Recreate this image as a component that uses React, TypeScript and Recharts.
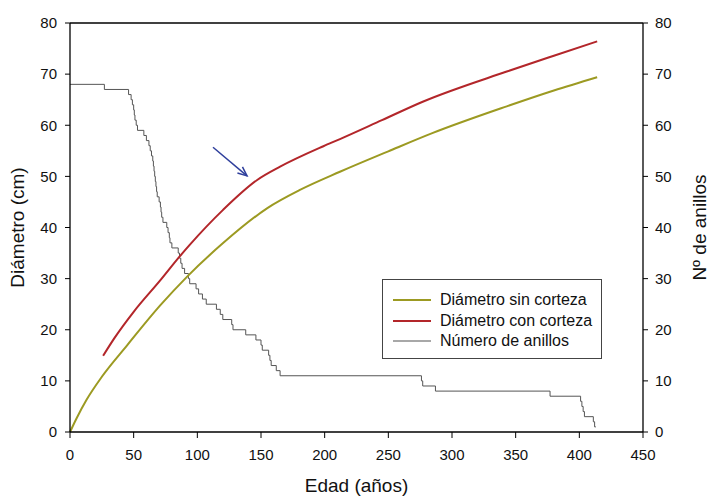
import React from 'react';
import {
  LineChart, Line, XAxis, YAxis, Legend, ReferenceLine, Label,
} from 'recharts';

// Diámetro sin corteza
const sinAge = [0, 5, 13, 25, 45, 71, 92, 120, 155, 181, 212, 250, 285, 343, 380, 414];
const sinDiam = [0, 2.6, 6.3, 10.8, 17, 24.8, 30.4, 36.9, 43.8, 47.4, 50.9, 54.9, 58.5, 63.7, 66.8, 69.4];

// Diámetro con corteza
const conAge = [26, 35, 50, 71, 86, 94, 120, 147, 165, 199, 212, 245, 277, 343, 380, 414];
const conDiam = [14.9, 18.4, 23.5, 29.7, 34.3, 36.6, 43.4, 49.3, 51.9, 55.9, 57.3, 61, 64.6, 70.5, 73.6, 76.4];

// Número de anillos (escalones)
const ringAge = [
  0, 27, 46, 48, 49, 50, 50.5, 51, 52, 53, 58, 60, 62, 63, 64, 65, 65.5, 66, 66.5, 67,
  67.5, 68, 68.5, 70, 71, 71.5, 72, 73, 76, 77, 78, 78.5, 80, 85, 86, 87, 88, 90, 93, 94,
  99, 101, 104, 107, 115, 118, 120, 127, 128, 138, 146, 150, 151, 156, 157, 158, 162, 165,
  276, 277, 287, 377, 401, 402, 403, 404, 411, 412, 413,
];
const ringCount = [
  68, 67, 66, 65, 64, 63, 62, 61, 60, 59, 58, 57, 56, 55, 54, 53, 52, 51, 50, 49,
  48, 47, 46, 45, 44, 43, 42, 41, 40, 39, 38, 37, 36, 35, 34, 33, 32, 31, 30, 29,
  28, 27, 26, 25, 24, 23, 22, 21, 20, 19, 18, 17, 16, 15, 14, 13, 12, 11,
  10, 9, 8, 7, 6, 5, 4, 3, 2, 1, 1,
];

const xTicks = [0, 50, 100, 150, 200, 250, 300, 350, 400, 450];
const yTicks = [0, 10, 20, 30, 40, 50, 60, 70, 80];

const sinData = sinAge.map((a, i) => ({ age: a, value: sinDiam[i] }));
const conData = conAge.map((a, i) => ({ age: a, value: conDiam[i] }));
const ringData = ringAge.map((a, i) => ({ age: a, value: ringCount[i] }));

const OLIVE = '#9c9a22';
const RED = '#b3262a';
const GRAY = '#555555';
const FONT = '"Liberation Sans", Arial, sans-serif';

const legendItems = [
  { name: 'Diámetro sin corteza', color: OLIVE, width: 2 },
  { name: 'Diámetro con corteza', color: RED, width: 2 },
  { name: 'Número de anillos', color: '#a8a8a8', width: 2 },
];

const LegendBox = () => (
  <div style={{
    border: '1px solid #444', width: 220, height: 80, boxSizing: 'border-box',
    background: '#fff', fontFamily: FONT, fontSize: 16, color: '#111', paddingTop: 10,
  }}>
    {legendItems.map((it) => (
      <div key={it.name} style={{ display: 'flex', alignItems: 'center', height: 20.5 }}>
        <svg width={57} height={10}>
          <line x1={10} x2={48} y1={5} y2={5} stroke={it.color} strokeWidth={it.width} />
        </svg>
        <span>{it.name}</span>
      </div>
    ))}
  </div>
);

const arrowShape = (p: any) => {
  const { x1, y1, x2, y2 } = p;
  if (x1 == null) return null;
  const ang = Math.atan2(y2 - y1, x2 - x1);
  const len = 10;
  const spread = 0.4;
  const ax = x2 - len * Math.cos(ang - spread);
  const ay = y2 - len * Math.sin(ang - spread);
  const bx = x2 - len * Math.cos(ang + spread);
  const by = y2 - len * Math.sin(ang + spread);
  return (
    <g stroke="#2f3f9c" strokeWidth={1.5} fill="none">
      <line x1={x1} y1={y1} x2={x2} y2={y2} />
      <polyline points={`${ax},${ay} ${x2},${y2} ${bx},${by}`} />
    </g>
  );
};

const App = () => (
  <div style={{ position: 'absolute', left: 0, top: 0, background: '#fff' }}>
    <LineChart width={708} height={497} margin={{ top: 23, right: 0, bottom: 0, left: 0 }}
      style={{ fontFamily: FONT }}>
      <XAxis dataKey="age" type="number" domain={[0, 450]} ticks={xTicks} height={65}
        axisLine={{ stroke: '#000', strokeWidth: 1.3 }} tickLine={{ stroke: '#000' }}
        tickSize={6} tickMargin={11} tick={{ fill: '#111', fontSize: 15 }} allowDuplicatedCategory={false}>
        <Label value="Edad (años)" position="insideBottom" offset={5}
          style={{ fontSize: 19, fill: '#111' }} />
      </XAxis>
      <YAxis yAxisId="left" domain={[0, 80]} ticks={yTicks} width={70}
        axisLine={{ stroke: '#000', strokeWidth: 1.3 }} tickLine={{ stroke: '#000' }}
        tickSize={5} tickMargin={8} tick={{ fill: '#111', fontSize: 15 }}>
        <Label content={(props: any) => {
          const vb = props.viewBox;
          const cx = 17;
          const cy = vb.y + vb.height / 2;
          return (
            <text x={cx} y={cy} transform={`rotate(-90 ${cx} ${cy})`} textAnchor="middle"
              dominantBaseline="central" fontSize={19} fill="#111">Diámetro (cm)</text>
          );
        }} />
      </YAxis>
      <YAxis yAxisId="right" orientation="right" domain={[0, 80]} ticks={yTicks} width={65}
        axisLine={{ stroke: '#000', strokeWidth: 1.3 }} tickLine={{ stroke: '#000' }}
        tickSize={5} tickMargin={7} tick={{ fill: '#111', fontSize: 15 }}>
        <Label content={(props: any) => {
          const vb = props.viewBox;
          const cx = 699;
          const cy = vb.y + vb.height / 2;
          return (
            <text x={cx} y={cy} transform={`rotate(-90 ${cx} ${cy})`} textAnchor="middle"
              dominantBaseline="central" fontSize={19} fill="#111">Nº de anillos</text>
          );
        }} />
      </YAxis>
      <ReferenceLine yAxisId="left" y={80} stroke="#000" strokeWidth={1.3} />
      <ReferenceLine yAxisId="left" segment={[{ x: 112.3, y: 55.7 }, { x: 139, y: 50.1 }]}
        shape={arrowShape} />
      <Line yAxisId="right" data={ringData} dataKey="value" type="stepAfter" stroke={GRAY}
        strokeWidth={1} dot={false} isAnimationActive={false} name="Número de anillos" />
      <Line yAxisId="left" data={sinData} dataKey="value" type="monotone" stroke={OLIVE}
        strokeWidth={2} dot={false} isAnimationActive={false} name="Diámetro sin corteza" />
      <Line yAxisId="left" data={conData} dataKey="value" type="monotone" stroke={RED}
        strokeWidth={2} dot={false} isAnimationActive={false} name="Diámetro con corteza" />
      <Legend layout="horizontal" verticalAlign="middle" align="center" content={() => <LegendBox />}
        wrapperStyle={{ left: 382, top: 279, width: 222, height: 82 }} />
    </LineChart>
  </div>
);

export default App;
